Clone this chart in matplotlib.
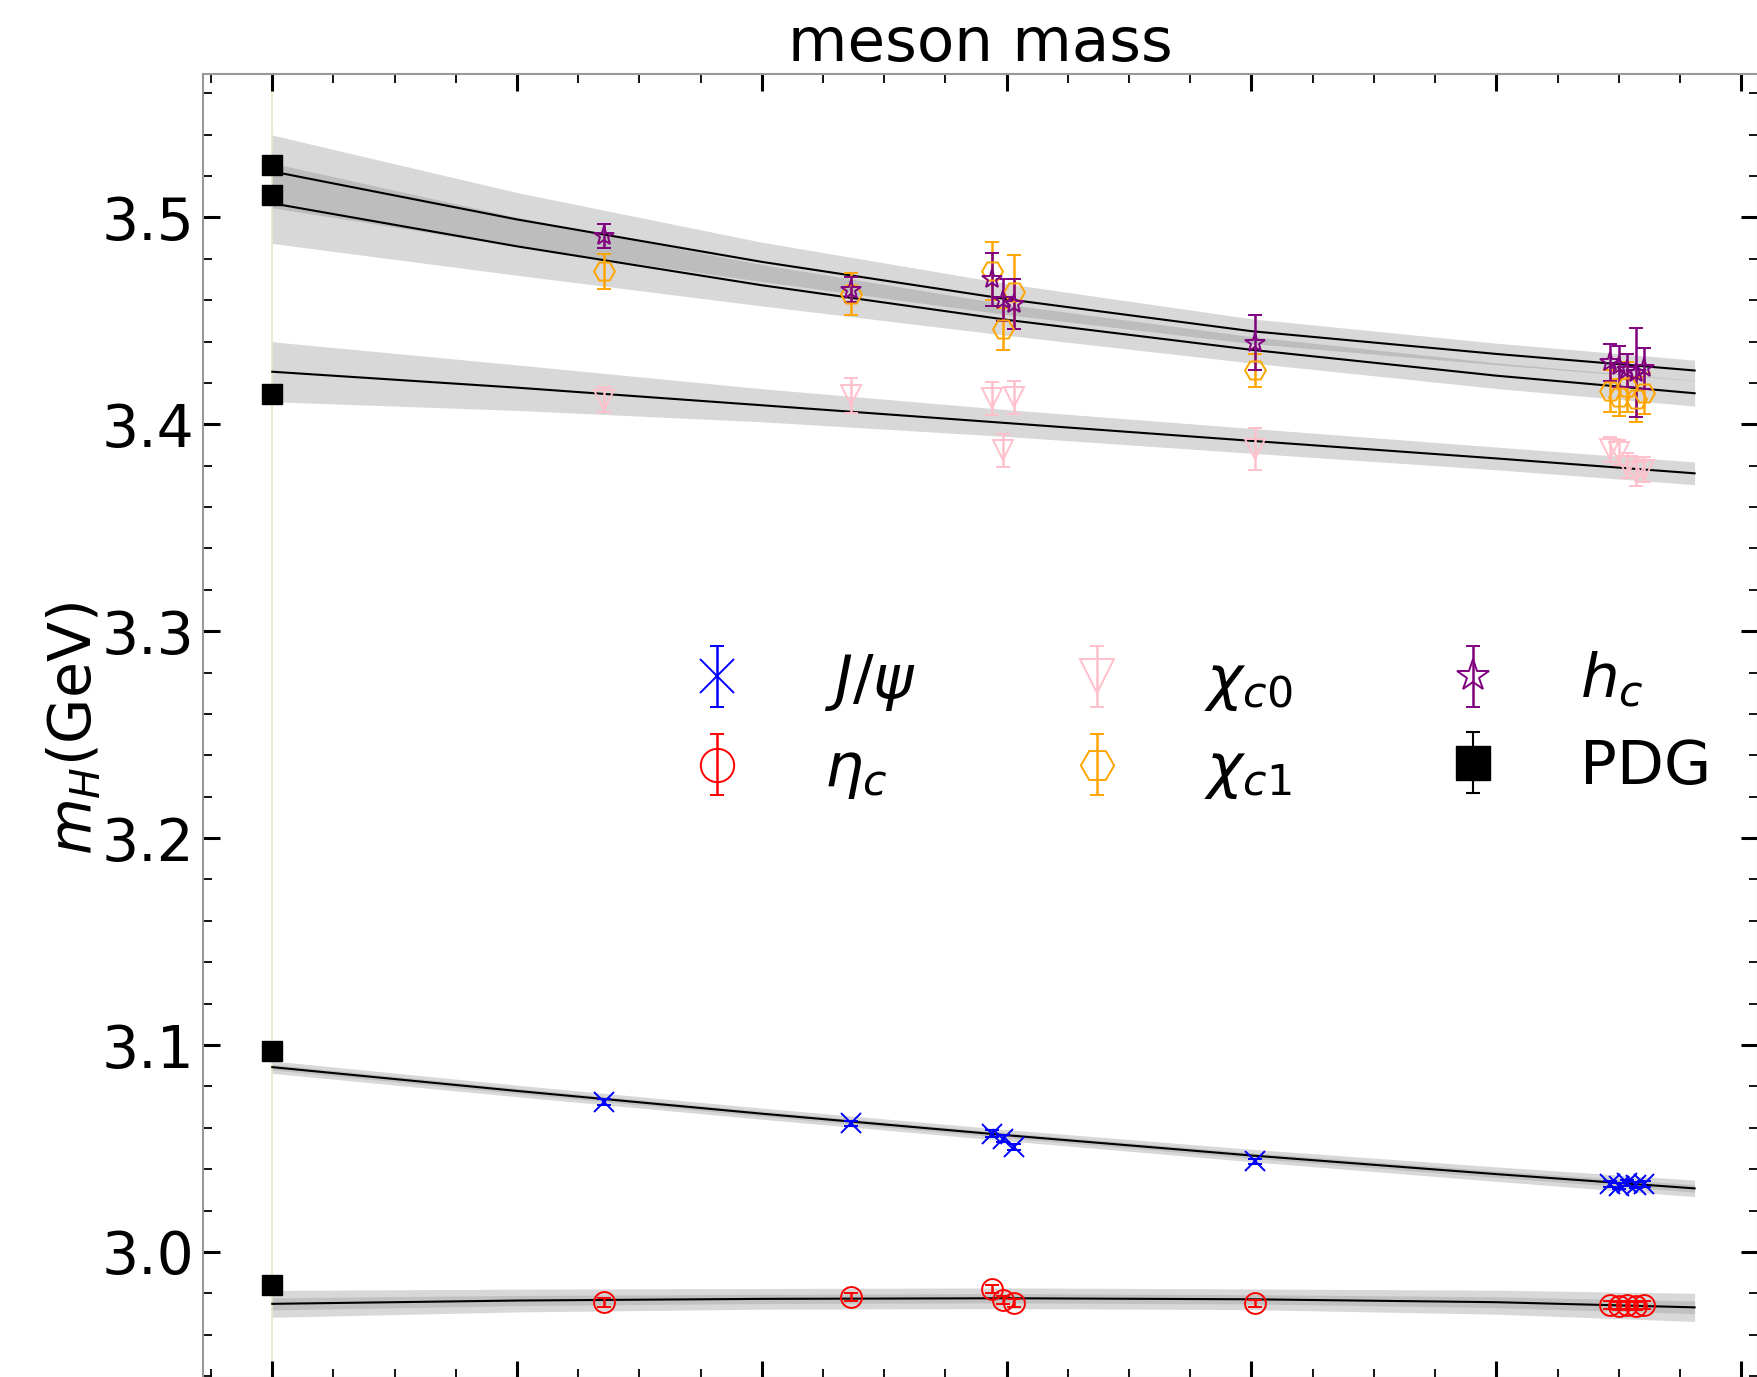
import numpy as np
import matplotlib.pyplot as plt
from matplotlib.ticker import MultipleLocator

# a^2 of the ensembles (x axis labels are cropped away)
a2 = [0.00271, 0.00473, 0.00588, 0.00597, 0.00606, 0.00803,
      0.01093, 0.01100, 0.01107, 0.01114, 0.01121]

# lattice masses (GeV) and errors
m_jpsi = [3.0725, 3.0622, 3.0572, 3.0548, 3.0508, 3.0438,
          3.0330, 3.0318, 3.0333, 3.0322, 3.0330]
e_jpsi = [0.0015, 0.0012, 0.0015, 0.0015, 0.0015, 0.0013,
          0.0015, 0.0015, 0.0015, 0.0015, 0.0015]
m_etac = [2.9756, 2.9782, 2.9822, 2.9768, 2.9752, 2.9751,
          2.9742, 2.9738, 2.9745, 2.9740, 2.9744]
e_etac = [0.0020, 0.0018, 0.0020, 0.0020, 0.0020, 0.0018,
          0.0020, 0.0020, 0.0020, 0.0020, 0.0020]
m_chic0 = [3.4118, 3.4141, 3.4125, 3.3875, 3.4130, 3.3880,
           3.3880, 3.3865, 3.3800, 3.3770, 3.3780]
e_chic0 = [0.0060, 0.0085, 0.0080, 0.0080, 0.0080, 0.0100,
           0.0060, 0.0060, 0.0060, 0.0070, 0.0060]
m_chic1 = [3.4740, 3.4630, 3.4740, 3.4460, 3.4640, 3.4262,
           3.4160, 3.4130, 3.4180, 3.4120, 3.4150]
e_chic1 = [0.0085, 0.0100, 0.0140, 0.0100, 0.0180, 0.0080,
           0.0100, 0.0090, 0.0120, 0.0110, 0.0100]
m_hc = [3.4910, 3.4650, 3.4700, 3.4600, 3.4580, 3.4395,
        3.4300, 3.4280, 3.4260, 3.4250, 3.4270]
e_hc = [0.0058, 0.0060, 0.0130, 0.0100, 0.0120, 0.0133,
        0.0090, 0.0100, 0.0080, 0.0215, 0.0100]

# PDG values
m_pdg = [2.9839, 3.0969, 3.41471, 3.51067, 3.52538]
e_pdg = [0.0004, 0.0001, 0.0003, 0.0001, 0.0001]

# continuum fits
a2_fit = [0.0, 0.002, 0.004, 0.006, 0.008, 0.010, 0.01162]
fit_jpsi = [3.0893, 3.0778, 3.0668, 3.0564, 3.0466, 3.0376, 3.0307]
band_jpsi = [0.0030, 0.0028, 0.0027, 0.0027, 0.0030, 0.0035, 0.0040]
fit_etac = [2.9749, 2.9765, 2.9773, 2.9776, 2.9771, 2.9757, 2.9732]
band_etac = [0.0065, 0.0055, 0.0050, 0.0050, 0.0050, 0.0058, 0.0068]
fit_chic0 = [3.4254, 3.4177, 3.4092, 3.4006, 3.3920, 3.3835, 3.3763]
band_chic0 = [0.0145, 0.0110, 0.0080, 0.0065, 0.0060, 0.0055, 0.0055]
fit_chic1 = [3.5068, 3.4860, 3.4672, 3.4505, 3.4360, 3.4235, 3.4150]
band_chic1 = [0.0194, 0.0140, 0.0100, 0.0075, 0.0064, 0.0062, 0.0062]
fit_hc = [3.5222, 3.4990, 3.4785, 3.4605, 3.4450, 3.4340, 3.4260]
band_hc = [0.0176, 0.0130, 0.0095, 0.0075, 0.0060, 0.0052, 0.0050]

fig = plt.figure(figsize=(17.57, 13.77), dpi=100)
ax = fig.add_axes([203/1757, -0.5/1377, 1555/1757, 1303.5/1377])

ax.axvline(0, color='#e8e8c0', lw=1.2, zorder=0)

x_fit = np.array(a2_fit)
for fit, band in [(fit_jpsi, band_jpsi), (fit_etac, band_etac),
                  (fit_chic0, band_chic0), (fit_chic1, band_chic1),
                  (fit_hc, band_hc)]:
    fit = np.array(fit)
    band = np.array(band)
    ax.fill_between(x_fit, fit - band, fit + band, color='gray',
                    alpha=0.3, lw=0, zorder=1)
    ax.plot(x_fit, fit, color='k', lw=1.5, zorder=2)
# narrower inner bands on the S-wave fits
for fit, band in [(fit_jpsi, band_jpsi), (fit_etac, band_etac)]:
    fit = np.array(fit)
    band = np.array(band)*0.45
    ax.fill_between(x_fit, fit - band, fit + band, color='gray',
                    alpha=0.25, lw=0, zorder=1)

kw = dict(ms=15, mew=1.4, mfc='none', capsize=5, capthick=1.5,
          elinewidth=1.8, ls='none', zorder=3)
h1 = ax.errorbar(a2, m_jpsi, yerr=e_jpsi, marker='x', color='blue',
                 label=r'$J/\psi$', **kw)
h2 = ax.errorbar(a2, m_etac, yerr=e_etac, marker='o', color='red',
                 label=r'$\eta_c$', **kw)
h3 = ax.errorbar(a2, m_chic0, yerr=e_chic0, marker='v', color='pink',
                 label=r'$\chi_{c0}$', **kw)
h4 = ax.errorbar(a2, m_chic1, yerr=e_chic1, marker='H', color='orange',
                 label=r'$\chi_{c1}$', **kw)
h5 = ax.errorbar(a2, m_hc, yerr=e_hc, marker='*', color='purple',
                 label=r'$h_c$', **kw)
h6 = ax.errorbar(np.zeros(len(m_pdg)), m_pdg, yerr=e_pdg, fmt='s',
                 color='k', ms=15, capsize=5, capthick=1.5, zorder=4,
                 label='PDG')

ax.set_xlim(-0.000566, 0.012138)
ax.set_ylim(2.9393, 3.5693)
ax.xaxis.set_major_locator(MultipleLocator(0.002))
ax.xaxis.set_minor_locator(MultipleLocator(0.0005))
ax.yaxis.set_major_locator(MultipleLocator(0.1))
ax.yaxis.set_minor_locator(MultipleLocator(0.02))
ax.tick_params(which='both', direction='in', top=True, right=True,
               labelsize=42, pad=6, labelbottom=False)
ax.tick_params(which='major', length=12, width=2.2)
ax.tick_params(which='minor', length=6.5, width=1.3)
for s in ax.spines.values():
    s.set_color('#999999')
    s.set_linewidth(1.5)

ax.set_title('meson mass', fontsize=44, pad=8)
ax.set_ylabel(r'$m_H$(GeV)', fontsize=42)
ax.yaxis.set_label_coords(-0.065, 0.498)

ax.legend(handles=[h1, h2, h3, h4, h5, h6], ncol=3, loc='center',
          bbox_to_anchor=(0.678, 0.473), bbox_transform=fig.transFigure,
          frameon=False, fontsize=44, markerscale=1.6, handlelength=1.5,
          handletextpad=1.0, columnspacing=2.2, labelspacing=0.45)

fig.savefig('out.png', dpi=100)
